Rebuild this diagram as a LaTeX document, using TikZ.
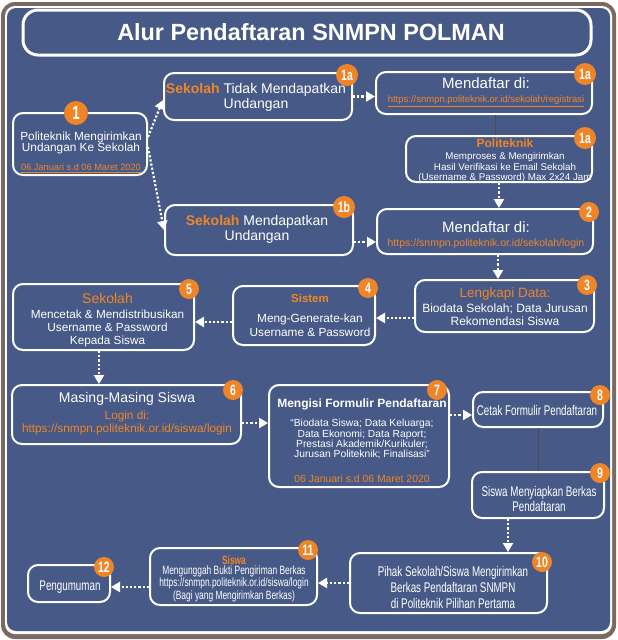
\documentclass[tikz,border=0pt]{standalone}
\usepackage{fontspec}
\setmainfont{Liberation Sans}
\newfontfamily\narrowfont[FakeStretch=0.7]{Liberation Sans}
\usetikzlibrary{arrows.meta}
\definecolor{bgblue}{RGB}{71,90,135}
\definecolor{orng}{RGB}{240,133,40}
\definecolor{framebrown}{RGB}{122,106,98}
\newcommand\myfs[2]{\fontsize{#1}{#2}\selectfont}
\begin{document}
\begin{tikzpicture}[x=1pt,y=-1pt,
 box/.style={draw=white, line width=2pt, rounded corners=10pt, inner sep=0pt},
 badge/.style={circle, fill=orng, text=white, inner sep=0pt, minimum size=20pt, font=\narrowfont\bfseries\myfs{15}{15}},
 txt/.style={text=white, align=center, inner sep=0pt},
 arr/.style={white, line width=2.2pt, dash pattern=on 2.2pt off 2pt, -{Triangle[length=9pt,width=10pt]}},
 link/.style={draw=black!70, line width=0.6pt}]

\useasboundingbox (0,0) rectangle (618,640);
\fill[white] (0,0) rectangle (618,640);
\fill[framebrown, rounded corners=14pt] (1,2) rectangle (616,639);
\fill[white, rounded corners=10pt] (5,6) rectangle (612,634);
\fill[bgblue, rounded corners=9pt] (7,8) rectangle (610,631);

% boxes
\node[box, line width=3pt, rounded corners=15pt, minimum width=568pt, minimum height=45pt] (b0) at (307,32.5) {};
\node[box, minimum width=134pt, minimum height=62pt] (b1) at (80,144) {};
\node[box, minimum width=188pt, minimum height=47pt] (b1a) at (258,96.5) {};
\node[box, minimum width=216pt, minimum height=42pt] (b1r) at (484,93) {};
\node[box, minimum width=186pt, minimum height=46pt] (b1p) at (499,159) {};
\node[box, minimum width=188pt, minimum height=50pt] (b1b) at (259,230) {};
\node[box, minimum width=216pt, minimum height=45pt] (b2) at (485,231.5) {};
\node[box, minimum width=179pt, minimum height=52pt] (b3) at (504.5,306) {};
\node[box, minimum width=142pt, minimum height=59pt] (b4) at (304,315.5) {};
\node[box, minimum width=181pt, minimum height=66pt] (b5) at (103.5,317) {};
\node[box, minimum width=229pt, minimum height=59pt] (b6) at (126.5,414.5) {};
\node[box, minimum width=180pt, minimum height=102pt] (b7) at (359,436) {};
\node[box, minimum width=130pt, minimum height=35pt] (b8) at (538,409.5) {};
\node[box, minimum width=132pt, minimum height=46pt] (b9) at (538,495) {};
\node[box, minimum width=197pt, minimum height=60pt] (b10) at (448.5,583) {};
\node[box, minimum width=167pt, minimum height=57pt] (b11) at (233.5,576.5) {};
\node[box, minimum width=82pt, minimum height=37pt] (b12) at (69,583.5) {};

% texts
\node[txt, font=\bfseries\myfs{23.4}{23.4}] (t0) at (311,32) {Alur Pendaftaran SNMPN POLMAN};
\node[txt, font=\myfs{11.8}{11.3}] (t1) at (81,152.5) {Politeknik Mengirimkan\\ Undangan Ke Sekolah\\[7.7pt] {\color{orng}\myfs{9.2}{11.3}\underline{06 Januari s.d 06 Maret 2020}}};
\node[txt, font=\myfs{14}{15}] (t1a) at (256,97) {{\color{orng}\bfseries Sekolah} Tidak Mendapatkan\\ Undangan};
\node[txt, font=\myfs{15}{14}] (t1r) at (486,92.5) {Mendaftar di:\\ {\color{orng}\myfs{9.5}{14}\underline{https://snmpn.politeknik.or.id/sekolah/registrasi}}};
\node[txt, font=\myfs{9.8}{10.6}] (t1p) at (505,161) {{\color{orng}\bfseries\myfs{12}{10.6}Politeknik}\\[1.4pt] Memproses \& Mengirimkan\\ Hasil Verifikasi ke Email Sekolah\\ (Username \& Password) Max 2x24 Jam};
\node[txt, font=\myfs{14}{15}] (t1b) at (257,229) {{\color{orng}\bfseries Sekolah} Mendapatkan\\ Undangan};
\node[txt, font=\myfs{15}{14}] (t2) at (486,235.5) {Mendaftar di:\\ {\color{orng}\myfs{10.5}{14}https://snmpn.politeknik.or.id/sekolah/login}};
\node[txt, font=\myfs{12}{13}] (t3) at (505,307) {{\color{orng}\myfs{13.5}{13}Lengkapi Data:}\\[2pt] Biodata Sekolah; Data Jurusan\\ Rekomendasi Siswa};
\node[txt, font=\myfs{11.8}{14}] (t4) at (310,315) {{\color{orng}\bfseries\myfs{11.5}{14}Sistem}\\[6pt] Meng-Generate-kan\\ Username \& Password};
\node[txt, font=\myfs{11.75}{13}] (t5) at (107.5,320) {{\color{orng}\myfs{14}{13}Sekolah}\\[2pt] Mencetak \& Mendistribusikan\\ Username \& Password\\ Kepada Siswa};
\node[txt, font=\myfs{11.8}{13}] (t6) at (127,413.5) {{\myfs{14}{13}Masing-Masing Siswa}\\[4pt] {\color{orng}Login di:}\\ {\color{orng}https://snmpn.politeknik.or.id/siswa/login}};
\node[txt, font=\myfs{10.3}{10.4}] (t7) at (362,441) {{\bfseries\myfs{12}{10.4}Mengisi Formulir Pendaftaran}\\[8.6pt] “Biodata Siswa; Data Keluarga;\\ Data Ekonomi; Data Raport;\\ Prestasi Akademik/Kurikuler;\\ Jurusan Politeknik; Finalisasi”\\[14.6pt] {\color{orng}\myfs{10.4}{10.4}06 Januari s.d 06 Maret 2020}};
\node[txt, font=\narrowfont\myfs{14}{14}] (t8) at (537,410) {Cetak Formulir Pendaftaran};
\node[txt, font=\narrowfont\myfs{14}{15}] (t9) at (539,499) {Siswa Menyiapkan Berkas\\ Pendaftaran};
\node[txt, font=\narrowfont\myfs{14}{16}] (t10) at (453,587.5) {Pihak Sekolah/Siswa Mengirimkan\\ Berkas Pendaftaran SNMPN\\ di Politeknik Pilihan Pertama};
\node[txt, font=\narrowfont\myfs{12}{10.6}] (t11) at (234,578.5) {{\color{orng}\bfseries Siswa}\\ Mengunggah Bukti Pengiriman Berkas\\ https://snmpn.politeknik.or.id/siswa/login\\ (Bagi yang Mengirimkan Berkas)};
\node[txt, font=\narrowfont\myfs{14}{14}] (t12) at (70,587) {Pengumuman};

% connectors
\draw[arr] ([yshift=7pt]b1.east) -- ([yshift=-3.5pt]b1a.west);
\draw[arr] ([yshift=-3pt]b1.east) -- (b1b.west);
\draw[arr] (b1a.east) -- (b1a.east -| b1r.west);
\draw[link] ([xshift=11pt]b1r.south) -- ([xshift=11pt]b1r.south |- b1p.north);
\draw[arr] (b1p.south) -- (b1p.south |- b2.north);
\draw[arr] ([yshift=-12pt]b1b.east) -- ([yshift=-12pt]b1b.east -| b2.west);
\draw[arr] ([xshift=13pt]b2.south) -- ([xshift=13pt]b2.south |- b3.north);
\draw[arr] ([yshift=-12pt]b3.west) -- ([yshift=-12pt]b3.west -| b4.east);
\draw[arr] ([yshift=-6.5pt]b4.west) -- ([yshift=-6.5pt]b4.west -| b5.east);
\draw[arr] ([xshift=-4.5pt]b5.south) -- ([xshift=-4.5pt]b5.south |- b6.north);
\draw[arr] ([yshift=-8.5pt]b6.east) -- ([yshift=-8.5pt]b6.east -| b7.west);
\draw[arr] ([yshift=21pt]b7.east) -- ([yshift=21pt]b7.east -| b8.west);
\draw[link] (b8.south) -- (b9.north);
\draw[arr] ([xshift=-30pt]b9.south) -- ([xshift=-30pt]b9.south |- b10.north);
\draw[arr] (b10.west) -- (b10.west -| b11.east);
\draw[arr] ([yshift=-10.5pt]b11.west) -- ([yshift=-10.5pt]b11.west -| b12.east);

% badges
\node[badge, minimum size=24pt, font=\narrowfont\bfseries\myfs{19}{19}] (k1) at (76,113) {1};
\node[badge, minimum size=22pt] (k1a) at (347,75) {1a};
\node[badge, minimum size=22pt] (k1r) at (585,74) {1a};
\node[badge, minimum size=22pt] (k1p) at (585,138) {1a};
\node[badge, minimum size=22pt] (k1b) at (344,207) {1b};
\node[badge] (k2) at (589,212) {2};
\node[badge] (k3) at (587,285) {3};
\node[badge] (k4) at (368,288) {4};
\node[badge] (k5) at (189,289) {5};
\node[badge] (k6) at (233,390) {6};
\node[badge] (k7) at (437,390) {7};
\node[badge] (k8) at (600,395) {8};
\node[badge] (k9) at (600,473) {9};
\node[badge] (k10) at (542,562) {10};
\node[badge] (k11) at (308,550) {11};
\node[badge] (k12) at (104,567) {12};
\end{tikzpicture}
\end{document}
